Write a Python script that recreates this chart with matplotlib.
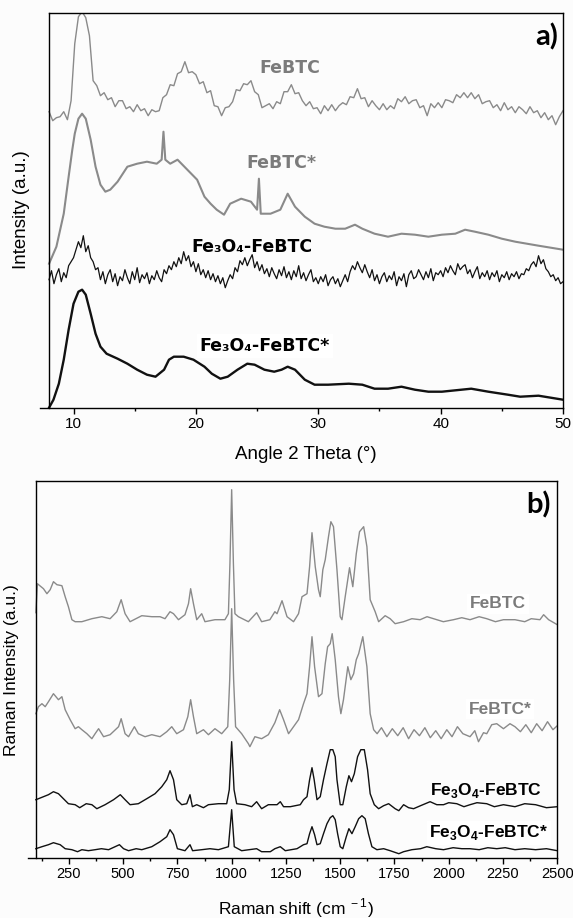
import numpy as np
import matplotlib
matplotlib.use("Agg")
import matplotlib.pyplot as plt

plt.rcParams['font.family'] = ['Liberation Sans', 'DejaVu Sans']
plt.rcParams['mathtext.fontset'] = 'custom'
plt.rcParams['mathtext.rm'] = 'Liberation Sans'
plt.rcParams['mathtext.bf'] = 'Liberation Sans:bold'

# ---------------- XRD data (a) ----------------
# FeBTC: noisy scan read every 0.3 deg from 8 to 50
xrd_febtc = [296, 287, 290, 291, 296, 288, 307, 364, 391, 396, 390, 372, 327, 322, 312, 315, 308, 310,
             301, 307, 307, 299, 301, 296, 303, 297, 299, 292, 298, 296, 297, 310, 313, 323, 322, 334,
             336, 346, 335, 336, 333, 324, 326, 315, 317, 302, 301, 292, 300, 301, 306, 318, 317, 324,
             323, 327, 316, 313, 300, 302, 304, 299, 306, 304, 316, 316, 323, 314, 315, 307, 302, 306,
             299, 300, 294, 302, 297, 303, 297, 302, 305, 303, 311, 310, 319, 309, 310, 301, 307, 302,
             298, 304, 298, 302, 299, 309, 306, 311, 304, 307, 308, 300, 302, 292, 304, 300, 305, 300,
             308, 307, 305, 313, 310, 315, 310, 315, 309, 313, 304, 306, 307, 300, 303, 297, 305, 298,
             301, 295, 301, 298, 294, 301, 295, 297, 290, 295, 288, 292, 283, 291, 297]
xrd_febtc_theta = np.linspace(8.0, 50.0, len(xrd_febtc))

xrd_febtc_s_theta = [8.0, 8.6, 9.2, 9.6, 9.9, 10.1, 10.4, 10.7, 11.0, 11.4, 11.8, 12.2, 12.6, 13.0,
                     13.6, 14.4, 15.2, 16.0, 16.8, 17.2, 17.35, 17.5, 17.9, 18.5, 19.3, 20.1, 20.7,
                     21.2, 21.7, 22.3, 22.8, 23.7, 24.5, 25.0, 25.15, 25.3, 26.1, 26.9, 27.5, 28.1,
                     28.9, 29.7, 30.5, 31.4, 32.2, 33.0, 33.6, 34.6, 35.7, 36.8, 37.9, 39.0, 40.1,
                     41.2, 42.0, 42.8, 43.9, 45.0, 46.1, 48.0, 50.0]
xrd_febtc_s = [144, 161, 194, 231, 258, 274, 289, 294, 289, 268, 241, 223, 216, 218,
               226, 241, 244, 246, 244, 248, 276, 248, 244, 248, 238, 228, 211,
               204, 198, 193, 204, 209, 206, 198, 229, 194, 194, 198, 214, 201,
               191, 184, 181, 179, 179, 183, 179, 174, 171, 174, 173, 171, 173,
               174, 178, 176, 173, 169, 166, 162, 158]

# Fe3O4-FeBTC: noisy scan read every 0.2 deg from 8 to 50
xrd_fe3o4_febtc = [128, 137, 124, 133, 139, 126, 135, 130, 142, 146,
                   150, 158, 166, 160, 172, 156, 162, 150, 146, 138,
                   140, 128, 136, 124, 133, 138, 126, 134, 122, 131,
                   127, 138, 130, 124, 136, 128, 140, 125, 133, 129,
                   135, 124, 132, 128, 137, 130, 126, 138, 134, 142,
                   138, 146, 141, 150, 144, 156, 147, 152, 141, 146,
                   136, 144, 133, 138, 130, 137, 128, 134, 126, 132,
                   124, 130, 120, 127, 133, 129, 140, 136, 147, 143,
                   150, 142, 148, 153, 140, 146, 137, 143, 134, 139,
                   131, 140, 134, 129, 138, 132, 141, 130, 136, 128,
                   137, 131, 142, 129, 135, 127, 133, 138, 126, 130,
                   124, 131, 126, 133, 122, 128, 131, 124, 129, 121,
                   127, 133, 126, 136, 142, 138, 146, 140, 135, 143,
                   136, 130, 138, 127, 133, 124, 131, 135, 126, 132,
                   128, 136, 122, 131, 127, 134, 121, 133, 137, 129,
                   131, 138, 133, 128, 136, 130, 139, 127, 135, 133,
                   137, 131, 140, 135, 142, 137, 133, 144, 138, 141,
                   143, 134, 138, 130, 136, 141, 129, 135, 131, 137,
                   128, 135, 131, 137, 126, 133, 130, 136, 128, 134,
                   131, 136, 129, 134, 133, 139, 137, 143, 146, 141,
                   152, 144, 148, 139, 136, 131, 133, 127, 130, 124,
                   126]
xrd_fe3o4_febtc_theta = np.linspace(8.0, 50.0, len(xrd_fe3o4_febtc))

xrd_fe3o4_s_theta = [8.0, 8.36, 8.8, 9.2, 9.6, 10.0, 10.4, 10.7, 11.0, 11.4, 11.8, 12.2, 12.7, 13.6,
                     14.4, 15.2, 16.0, 16.7, 17.4, 17.8, 18.2, 19.0, 19.8, 20.7, 21.3, 22.0, 22.6,
                     23.4, 24.2, 24.8, 25.6, 26.4, 27.0, 27.5, 28.1, 28.9, 29.7, 30.8, 32.5, 33.6,
                     34.6, 35.7, 36.8, 37.9, 39.0, 40.1, 41.7, 42.5, 43.9, 45.5, 46.5, 48.0, 50.0]
xrd_fe3o4_s = [0, 8, 24, 48, 78, 104, 116, 118, 113, 94, 74, 61, 54, 49,
               44, 38, 33, 31, 38, 48, 51, 51, 48, 41, 34, 29, 31,
               38, 44, 43, 38, 36, 38, 41, 38, 28, 23, 23, 24, 23,
               19, 19, 21, 18, 16, 16, 18, 19, 16, 13, 11, 12, 8]

# ---------------- Raman data (b) ----------------
raman_febtc_w = [98, 105, 133, 149, 164, 179, 195, 218, 233, 248, 264, 279, 310, 356, 402, 440, 471,
                 491, 509, 532, 586, 632, 670, 693, 716, 732, 755, 785, 801, 811, 824, 839, 862,
                 877, 923, 969, 985, 992, 1000, 1008, 1015, 1031, 1077, 1115, 1138, 1176, 1199,
                 1209, 1232, 1255, 1285, 1308, 1324, 1347, 1359, 1370, 1385, 1400, 1408, 1420,
                 1431, 1446, 1457, 1469, 1485, 1500, 1508, 1523, 1543, 1558, 1574, 1589, 1608,
                 1623, 1638, 1661, 1677, 1707, 1730, 1753, 1792, 1830, 1868, 1900, 1930, 1975,
                 2022, 2060, 2098, 2140, 2175, 2215, 2252, 2305, 2350, 2380, 2420, 2437, 2460, 2500]
raman_febtc = [245, 274, 269, 264, 268, 276, 273, 272, 261, 251, 238, 236, 236, 239, 241, 239, 246,
               258, 244, 236, 242, 241, 241, 239, 246, 244, 238, 243, 254, 269, 254, 238, 244,
               236, 238, 238, 244, 294, 368, 294, 244, 241, 236, 245, 236, 238, 246,
               244, 257, 241, 236, 244, 261, 264, 291, 325, 291, 268, 261, 288,
               298, 321, 336, 331, 288, 241, 238, 261, 290, 271, 304, 326, 331,
               311, 258, 246, 236, 242, 239, 234, 236, 239, 238, 241, 239, 236,
               238, 240, 238, 241, 239, 236, 238, 238, 236, 239, 238, 243, 238, 233]

raman_febtc_s_w = [98, 110, 126, 141, 156, 179, 202, 218, 233, 256, 279, 294, 310, 333, 356, 371,
                   387, 410, 440, 479, 491, 509, 525, 552, 570, 601, 632, 670, 701, 724, 747, 778,
                   798, 811, 824, 839, 870, 893, 923, 954, 982, 991, 1000, 1009, 1018, 1046, 1077,
                   1084, 1107, 1138, 1169, 1199, 1221, 1239, 1262, 1285, 1308, 1331, 1347, 1359,
                   1370, 1382, 1400, 1416, 1431, 1442, 1454, 1463, 1477, 1492, 1503, 1515, 1535,
                   1549, 1562, 1574, 1585, 1604, 1623, 1638, 1654, 1670, 1690, 1715, 1740, 1765,
                   1790, 1815, 1840, 1865, 1890, 1915, 1940, 1965, 1991, 2015, 2040, 2065, 2098,
                   2120, 2137, 2160, 2175, 2198, 2221, 2252, 2282, 2305, 2330, 2355, 2380, 2405,
                   2430, 2455, 2480, 2500]
raman_febtc_s = [144, 151, 154, 151, 156, 164, 158, 161, 148, 138, 129, 131, 128, 124, 119, 124,
                 129, 121, 123, 131, 139, 124, 121, 131, 124, 121, 123, 121, 126, 131, 124, 128,
                 141, 158, 141, 124, 128, 123, 129, 124, 131, 178, 249, 178, 131, 124, 114,
                 111, 121, 119, 123, 135, 148, 138, 124, 131, 138, 154, 164, 191,
                 221, 191, 161, 164, 194, 211, 214, 224, 198, 161, 144, 158, 191,
                 178, 184, 198, 204, 221, 191, 144, 128, 124, 130, 121, 129, 122,
                 130, 119, 128, 122, 130, 120, 127, 119, 128, 121, 131, 124, 121,
                 127, 116, 125, 124, 133, 134, 129, 134, 131, 126, 133, 125, 134,
                 127, 136, 128, 132]

raman_fe3o4_w = [98, 110, 133, 156, 179, 202, 225, 248, 279, 300, 330, 356, 379, 417, 456, 487, 509,
                 532, 570, 609, 647, 678, 701, 716, 732, 747, 770, 793, 808, 819, 839, 870, 893,
                 939, 977, 989, 1000, 1011, 1023, 1061, 1092, 1115, 1138, 1169, 1209, 1224, 1239,
                 1270, 1316, 1331, 1347, 1359, 1370, 1380, 1393, 1408, 1423, 1439, 1454, 1466,
                 1477, 1485, 1500, 1512, 1528, 1540, 1552, 1565, 1580, 1595, 1611, 1626, 1638,
                 1657, 1677, 1700, 1723, 1753, 1770, 1792, 1815, 1838, 1870, 1914, 1945, 1976,
                 2000, 2037, 2070, 2098, 2130, 2175, 2210, 2252, 2305, 2350, 2400, 2450, 2500]
raman_fe3o4 = [58, 59, 61, 63, 66, 64, 59, 54, 53, 50, 54, 53, 49, 53, 58, 63, 58,
               53, 54, 59, 64, 71, 78, 87, 78, 58, 53, 54, 63, 51, 53, 50, 53,
               54, 54, 68, 116, 68, 54, 53, 51, 56, 49, 53, 53, 56, 51,
               51, 53, 58, 61, 78, 90, 78, 58, 61, 78, 94, 108, 108,
               101, 78, 53, 53, 71, 82, 76, 84, 101, 108, 108, 88, 64,
               53, 49, 52, 54, 49, 47, 53, 50, 49, 52, 56, 53, 53,
               55, 54, 51, 53, 55, 54, 51, 53, 51, 54, 53, 50, 51]

raman_fe3o4_s_w = [98, 126, 156, 179, 210, 233, 264, 290, 310, 340, 371, 400, 433, 463, 483, 502,
                   525, 560, 586, 632, 670, 701, 716, 732, 750, 785, 808, 820, 862, 900, 939, 985,
                   1000, 1012, 1046, 1080, 1115, 1138, 1178, 1199, 1224, 1247, 1301, 1331, 1347,
                   1359, 1370, 1382, 1393, 1408, 1423, 1439, 1454, 1466, 1477, 1488, 1500, 1512,
                   1528, 1540, 1554, 1569, 1585, 1600, 1615, 1630, 1646, 1669, 1700, 1730, 1770,
                   1792, 1830, 1870, 1899, 1940, 1976, 2020, 2060, 2098, 2140, 2180, 2221, 2260,
                   2305, 2350, 2400, 2450, 2500]
raman_fe3o4_s = [9, 11, 13, 15, 13, 9, 8, 6, 8, 7, 8, 9, 8, 11, 13, 9,
                 7, 9, 8, 11, 16, 21, 28, 23, 9, 7, 13, 7, 8, 9, 8, 11,
                 48, 11, 7, 8, 9, 6, 6, 9, 11, 7, 9, 13, 14,
                 24, 31, 23, 13, 14, 24, 34, 40, 42, 38, 24, 11, 9,
                 21, 29, 24, 31, 39, 42, 39, 24, 11, 8, 9, 7, 4,
                 6, 8, 9, 11, 9, 8, 10, 9, 9, 8, 10, 9, 10,
                 8, 9, 8, 9, 7]

# ---------------- styling ----------------
GRAY = '#8a8a8a'
GRAY_TXT = '#7b7b7b'
BLACK = '#111111'
BG = '#fcfcfc'

fig = plt.figure(figsize=(5.73, 9.18), dpi=100, facecolor=BG)
W, H = 573.0, 918.0


def px_axes(left, top, right, bottom):
    return fig.add_axes([left / W, 1 - bottom / H, (right - left) / W, (bottom - top) / H])


def style(ax, x0, x1):
    ax.set_facecolor('none')
    ax.spines['left'].set_position(('data', x0))
    ax.spines['top'].set_bounds(x0, x1)
    for s in ax.spines.values():
        s.set_linewidth(1.0)
        s.set_color('black')
    ax.set_yticks([])
    ax.tick_params(axis='x', which='major', direction='out', length=4, width=1.0,
                   labelsize=11, pad=3, top=False)
    ax.tick_params(axis='x', which='minor', direction='out', length=2.5, width=1.0, top=False)


# ---- panel a ----
ax1 = px_axes(40, 13.3, 563, 407.7)
ax1.plot(xrd_febtc_theta, xrd_febtc, color=GRAY, lw=1.0)
ax1.plot(xrd_febtc_s_theta, xrd_febtc_s, color=GRAY, lw=1.5)
ax1.plot(xrd_fe3o4_febtc_theta, xrd_fe3o4_febtc, color=BLACK, lw=0.9)
ax1.plot(xrd_fe3o4_s_theta, xrd_fe3o4_s, color=BLACK, lw=1.7)
ax1.set_xlim(7.26, 50)
ax1.set_ylim(0, 394.4)
ax1.set_xticks([10, 20, 30, 40, 50])
ax1.set_xticks([15, 25, 35, 45], minor=True)
style(ax1, 8.0, 50)

ta = dict(family='DejaVu Sans', fontweight='bold', fontsize=12.5, ha='center', va='center')
fig.text(290 / W, 1 - 68 / H, 'FeBTC', color=GRAY_TXT, **ta)
fig.text(281 / W, 1 - 163 / H, 'FeBTC*', color=GRAY_TXT, **ta)
fig.text(252 / W, 1 - 247.5 / H, 'Fe\u2083O\u2084-FeBTC', color='black', **ta)
fig.text(265 / W, 1 - 346 / H, 'Fe\u2083O\u2084-FeBTC*', color='black',
         bbox=dict(facecolor='white', edgecolor='none', pad=2), **ta)
fig.text(558 / W, 1 - 37 / H, 'a)', family='Lato', fontweight='bold', fontsize=21,
         ha='right', va='center')
fig.text(306 / W, 1 - 455 / H, 'Angle 2 Theta (°)', fontsize=13.5, ha='center', va='center')
fig.text(22 / W, 1 - 210 / H, 'Intensity (a.u.)', fontsize=13.5, ha='center', va='center',
         rotation=90)

# ---- panel b ----
ax2 = px_axes(28.3, 481, 557.3, 857.7)
ax2.plot(raman_febtc_w, raman_febtc, color=GRAY, lw=1.0)
ax2.plot(raman_febtc_s_w, raman_febtc_s, color=GRAY, lw=1.0)
ax2.plot(raman_fe3o4_w, raman_fe3o4, color=BLACK, lw=1.0)
ax2.plot(raman_fe3o4_s_w, raman_fe3o4_s, color=BLACK, lw=1.0)
ax2.set_xlim(63.2, 2500)
ax2.set_ylim(0, 376.7)
ax2.set_xticks(np.arange(250, 2501, 250))
ax2.set_xticks(np.arange(125, 2500, 250), minor=True)
style(ax2, 100, 2500)
ax2.tick_params(axis='x', which='major', labelsize=10.5)

tb = dict(fontweight='bold', fontsize=12.5, ha='center', va='center', math_fontfamily='custom')
box = dict(facecolor='white', edgecolor='none', pad=2)
fig.text(498 / W, 1 - 604 / H, 'FeBTC', color=GRAY_TXT, bbox=box, **tb)
fig.text(500 / W, 1 - 709 / H, 'FeBTC*', color=GRAY_TXT, bbox=box, **tb)
fig.text(486 / W, 1 - 791 / H, r'Fe$_\mathbf{3}$O$_\mathbf{4}$-FeBTC', color='black', **tb)
fig.text(489 / W, 1 - 833 / H, r'Fe$_\mathbf{3}$O$_\mathbf{4}$-FeBTC*', color='black', bbox=box, **tb)
fig.text(551 / W, 1 - 505 / H, 'b)', family='Lato', fontweight='bold', fontsize=21,
         ha='right', va='center')
fig.text(296 / W, 1 - 908 / H, r'Raman shift (cm$^{\;-1}$)', fontsize=12.5, ha='center', va='center')
fig.text(12 / W, 1 - 670 / H, 'Raman Intensity (a.u.)', fontsize=12.5, ha='center', va='center',
         rotation=90)

fig.savefig('out.png', dpi=100, facecolor=BG)
